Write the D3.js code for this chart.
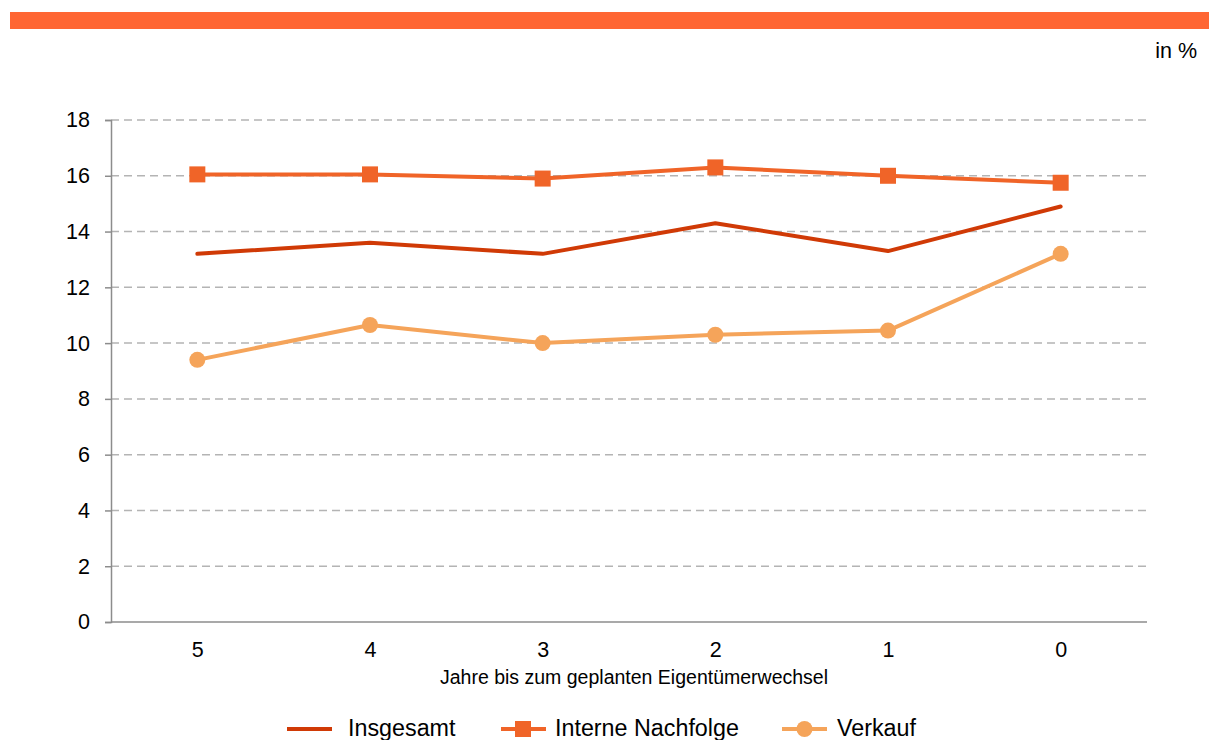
<!DOCTYPE html>
<html lang="de">
<head>
<meta charset="UTF-8">
<script src="https://cdn.jsdelivr.net/npm/d3@7"></script>
<style>
  body { margin: 0; background: #fff; }
  svg { display: block; font-family: "Liberation Sans", Arial, sans-serif; }
</style>
</head>
<body>
<div id="chart"></div>
<script>
// Daten
const years = ['5', '4', '3', '2', '1', '0'];
const insgesamt = [13.2, 13.6, 13.2, 14.3, 13.3, 14.9];
const interneNachfolge = [16.05, 16.05, 15.9, 16.3, 16.0, 15.75];
const verkauf = [9.4, 10.65, 10.0, 10.3, 10.45, 13.2];
const yTicks = [0, 2, 4, 6, 8, 10, 12, 14, 16, 18];

const W = 1209, H = 740;
const margin = { left: 111, right: 62, top: 120, bottom: 118 };
const FONT = '"Liberation Sans", Arial, sans-serif';

const svg = d3.select('#chart').append('svg')
  .attr('width', W).attr('height', H);

// orangener Balken oben
svg.append('rect')
  .attr('x', 10).attr('y', 12).attr('width', W - 10).attr('height', 17)
  .attr('fill', '#ff6633');

svg.append('text')
  .attr('x', 1197).attr('y', 58)
  .attr('text-anchor', 'end')
  .attr('font-size', 21.5)
  .text('in %');

const x = d3.scalePoint()
  .domain(years)
  .range([margin.left, W - margin.right])
  .padding(0.5);

const y = d3.scaleLinear()
  .domain([0, 18])
  .range([H - margin.bottom, margin.top]);

// Gitterlinien
svg.append('g')
  .selectAll('line')
  .data(yTicks.filter(d => d > 0))
  .join('line')
  .attr('x1', margin.left).attr('x2', W - margin.right)
  .attr('y1', d => y(d)).attr('y2', d => y(d))
  .attr('stroke', '#b4b4b4')
  .attr('stroke-width', 1.5)
  .attr('stroke-dasharray', '8,5');

// y-Achse
const yAxis = svg.append('g')
  .attr('transform', `translate(${margin.left},0)`)
  .call(d3.axisLeft(y).tickValues(yTicks).tickSize(6).tickPadding(15));
yAxis.selectAll('.domain').attr('stroke', '#8c8c8c').attr('stroke-width', 1.5);
yAxis.selectAll('.tick line').attr('stroke', '#8c8c8c').attr('stroke-width', 1.5);
yAxis.attr('font-size', 21.5).attr('font-family', FONT);
yAxis.selectAll('.tick text').attr('fill', '#000');

// x-Achse
svg.append('line')
  .attr('x1', margin.left).attr('x2', W - margin.right)
  .attr('y1', y(0)).attr('y2', y(0))
  .attr('stroke', '#8c8c8c').attr('stroke-width', 1.5);

const xAxis = svg.append('g')
  .attr('transform', `translate(0,${y(0)})`)
  .call(d3.axisBottom(x).tickSize(0).tickPadding(20));
xAxis.select('.domain').remove();
xAxis.attr('font-size', 21.5).attr('font-family', FONT);
xAxis.selectAll('.tick text').attr('fill', '#000');

svg.append('text')
  .attr('x', 634)
  .attr('y', 684)
  .attr('text-anchor', 'middle')
  .attr('font-size', 19.5)
  .text('Jahre bis zum geplanten Eigentümerwechsel');

const line = d3.line().x((d, i) => x(years[i])).y(d => y(d));

const series = [
  { name: 'Insgesamt', values: insgesamt, color: '#d03a06', marker: 'none' },
  { name: 'Interne Nachfolge', values: interneNachfolge, color: '#f06428', marker: 'square' },
  { name: 'Verkauf', values: verkauf, color: '#f5a45a', marker: 'circle' }
];

series.forEach(s => {
  svg.append('path')
    .datum(s.values)
    .attr('d', line)
    .attr('fill', 'none')
    .attr('stroke', s.color)
    .attr('stroke-width', 4)
    .attr('stroke-linejoin', 'round')
    .attr('stroke-linecap', 'round');
  if (s.marker === 'square') {
    svg.append('g').selectAll('rect')
      .data(s.values)
      .join('rect')
      .attr('x', (d, i) => x(years[i]) - 8)
      .attr('y', d => y(d) - 8)
      .attr('width', 16).attr('height', 16)
      .attr('fill', s.color);
  } else if (s.marker === 'circle') {
    svg.append('g').selectAll('circle')
      .data(s.values)
      .join('circle')
      .attr('cx', (d, i) => x(years[i]))
      .attr('cy', d => y(d))
      .attr('r', 8)
      .attr('fill', s.color);
  }
});

// Legende
const legendX = [287, 501, 782];
const textX = [348, 555, 837];
const legend = svg.append('g');
series.forEach((s, i) => {
  const g = legend.append('g').attr('transform', `translate(${legendX[i]},729)`);
  g.append('line')
    .attr('x1', 0).attr('x2', 45).attr('y1', 0).attr('y2', 0)
    .attr('stroke', s.color).attr('stroke-width', 4);
  if (s.marker === 'square') {
    g.append('rect').attr('x', 14).attr('y', -8).attr('width', 16).attr('height', 16).attr('fill', s.color);
  } else if (s.marker === 'circle') {
    g.append('circle').attr('cx', 22.5).attr('cy', 0).attr('r', 8).attr('fill', s.color);
  }
  g.append('text')
    .attr('x', textX[i] - legendX[i])
    .attr('y', 7)
    .attr('font-size', 23.3)
    .text(s.name);
});
</script>
</body>
</html>
